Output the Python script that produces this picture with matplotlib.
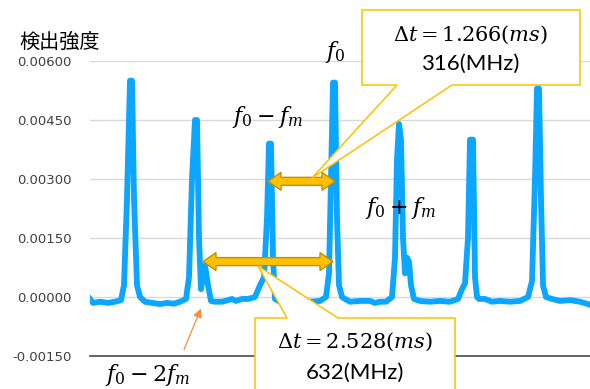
import numpy as np
import matplotlib
import matplotlib.pyplot as plt
from matplotlib.patches import Polygon
from matplotlib.transforms import IdentityTransform

# trace: time (ms) vs detected intensity
t_ms = [0.00, 0.06, 0.20, 0.36, 0.50, 0.62, 0.68, 0.74, 0.80, 0.84, 0.88, 0.94,
        1.00, 1.10, 1.24, 1.40, 1.54, 1.68, 1.80, 1.92, 1.98, 2.04, 2.10, 2.14,
        2.18, 2.22, 2.30, 2.36, 2.42, 2.50, 2.64, 2.76, 2.84, 2.92, 3.04, 3.16,
        3.30, 3.40, 3.48, 3.54, 3.58, 3.62, 3.66, 3.70, 3.80, 4.00, 4.20, 4.40,
        4.60, 4.72, 4.78, 4.82, 4.86, 4.90, 4.94, 4.98, 5.04, 5.10, 5.20, 5.40,
        5.60, 5.70, 5.80, 5.92, 6.04, 6.10, 6.14, 6.18, 6.22, 6.26, 6.30, 6.34,
        6.38, 6.42, 6.48, 6.60, 6.80, 7.00, 7.20, 7.36, 7.44, 7.50, 7.56, 7.60,
        7.66, 7.70, 7.74, 7.78, 7.90, 8.04, 8.20, 8.40, 8.60, 8.76, 8.84, 8.90,
        8.94, 8.98, 9.02, 9.06, 9.12, 9.24, 9.40, 9.60, 9.80, 9.96, 10.00]
intensity = [-0.00005, -0.00015, -0.00012, -0.00015, -0.00012, -0.00008, 0.00030, 0.00250, 0.00550, 0.00550, 0.00250, 0.00030,
             0.00000, -0.00012, -0.00015, -0.00018, -0.00015, -0.00017, -0.00012, -0.00005, 0.00050, 0.00300, 0.00450, 0.00450,
             0.00150, 0.00020, 0.00080, 0.00030, -0.00010, -0.00012, -0.00012, -0.00008, -0.00005, -0.00010, -0.00005, -0.00005,
             0.00000, 0.00030, 0.00050, 0.00200, 0.00390, 0.00390, 0.00100, -0.00005, -0.00012, -0.00010, -0.00015, -0.00012,
             -0.00010, 0.00000, 0.00060, 0.00300, 0.00545, 0.00545, 0.00200, 0.00030, 0.00000, -0.00005, -0.00012, -0.00010,
             -0.00010, -0.00015, -0.00012, -0.00012, 0.00000, 0.00100, 0.00350, 0.00440, 0.00400, 0.00150, 0.00060, 0.00100,
             0.00090, 0.00030, -0.00005, -0.00010, -0.00012, -0.00010, -0.00012, -0.00005, 0.00020, 0.00035, 0.00150, 0.00400,
             0.00400, 0.00050, 0.00000, -0.00005, -0.00005, -0.00012, -0.00010, -0.00012, -0.00010, 0.00000, 0.00040, 0.00300,
             0.00530, 0.00530, 0.00250, 0.00030, 0.00000, -0.00005, -0.00010, -0.00008, -0.00012, -0.00018, -0.00020]

y_ticks = [-0.0015, 0.0, 0.0015, 0.003, 0.0045, 0.006]

W, H = 590, 389
BLUE = "#0AA6FF"
GOLD = "#FFC000"
GOLD_EDGE = "#BF9000"


def px(x, y):
    # top-left pixel -> figure fraction
    return x / W, 1 - y / H


def darrow(ax, x0, x1, y, shaft=8, head_w=18, head_l=13):
    (ax0, ay), (ax1, _) = ax.transData.transform([(x0, y), (x1, y)])
    s, h = shaft / 2, head_w / 2
    xs = [ax0, ax0 + head_l, ax0 + head_l, ax1 - head_l, ax1 - head_l, ax1,
          ax1 - head_l, ax1 - head_l, ax0 + head_l, ax0 + head_l]
    ys = [ay, ay + h, ay + s, ay + s, ay + h, ay, ay - h, ay - s, ay - s, ay - h]
    ax.add_patch(Polygon(np.column_stack([xs, ys]), closed=True, transform=IdentityTransform(),
                         facecolor=GOLD, edgecolor=GOLD_EDGE, lw=1, clip_on=False, zorder=5))


def callout(fig, pts):
    xy = [px(x, y) for x, y in pts]
    fig.patches.append(Polygon(xy, closed=True, transform=fig.transFigure, facecolor="white",
                               edgecolor=GOLD, lw=1.1, zorder=6))


plt.rcParams["mathtext.fontset"] = "dejavuserif"
fig = plt.figure(figsize=(W / 100, H / 100), dpi=100)
ax = fig.add_axes([90 / W, 1 - 356 / H, 1 - 90 / W, (356 - 61) / H])

ax.plot(t_ms, intensity, color=BLUE, lw=4.2, solid_joinstyle="round", zorder=3)
ax.set_xlim(0, 10)
ax.set_ylim(-0.0015, 0.006)
ax.set_yticks(y_ticks)
ax.set_yticklabels(["%.5f" % v for v in y_ticks])
ax.set_xticks([])
ax.tick_params(axis="y", length=0, pad=13, labelsize=9.5, labelcolor="#404040")
ax.grid(axis="y", color="#d9d9d9", lw=1)
ax.set_axisbelow(True)
for side in ["top", "right", "left"]:
    ax.spines[side].set_visible(False)
ax.spines["bottom"].set_color("#595959")
ax.spines["bottom"].set_linewidth(1.3)

fig.text(*px(60, 42), "検出強度", ha="center", va="center", fontsize=14.5,
         family=["Noto Sans CJK JP", "DejaVu Sans"])

# peak labels
fig.text(*px(335, 52), r"$f_0$", ha="center", va="center", fontsize=16)
fig.text(*px(268, 117), r"$f_0 - f_m$", ha="center", va="center", fontsize=16)
fig.text(*px(401, 208), r"$f_0 + f_m$", ha="center", va="center", fontsize=16)
fig.text(*px(148, 375), r"$f_0 - 2f_m$", ha="center", va="center", fontsize=16)
ax.annotate("", xy=px(202, 306), xytext=px(183, 352), xycoords="figure fraction",
            textcoords="figure fraction",
            arrowprops=dict(arrowstyle="-|>", color="#F28E3F", lw=0.9, mutation_scale=13))

# interval arrows
darrow(ax, 3.56, 4.90, 0.00294)
darrow(ax, 2.26, 4.86, 0.00090)

# callouts
callout(fig, [(362, 10), (580, 10), (580, 85), (452, 85), (312, 178), (397, 85), (362, 85)])
callout(fig, [(255, 318), (287, 318), (258, 266), (338, 318), (455, 318), (455, 395), (255, 395)])
fig.text(*px(470, 35), r"$\Delta t = 1.266(ms)$", ha="center", va="center", fontsize=15, zorder=7)
fig.text(*px(470, 64), "316(MHz)", ha="center", va="center", fontsize=16, family="Lato", zorder=7)
fig.text(*px(355, 342), r"$\Delta t = 2.528(ms)$", ha="center", va="center", fontsize=15, zorder=7)
fig.text(*px(355, 373), "632(MHz)", ha="center", va="center", fontsize=16, family="Lato", zorder=7)

fig.savefig("out.png", dpi=100)
